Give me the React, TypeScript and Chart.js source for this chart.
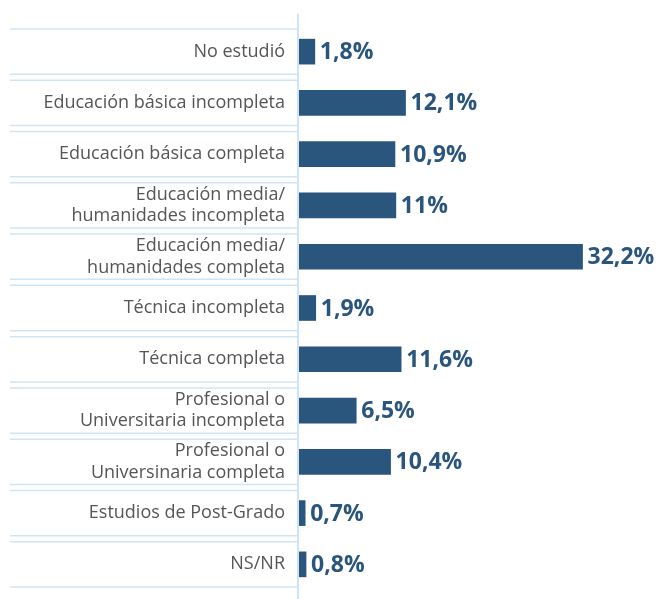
import React, { useEffect, useRef } from "react";
import { Chart, registerables } from "chart.js";

Chart.register(...registerables);

const categories: (string | string[])[] = [
  "No estudió",
  "Educación básica incompleta",
  "Educación básica completa",
  ["Educación media/", "humanidades incompleta"],
  ["Educación media/", "humanidades completa"],
  "Técnica incompleta",
  "Técnica completa",
  ["Profesional o", "Universitaria incompleta"],
  ["Profesional o", "Universinaria completa"],
  "Estudios de Post-Grado",
  "NS/NR",
];

const values = [1.8, 12.1, 10.9, 11, 32.2, 1.9, 11.6, 6.5, 10.4, 0.7, 0.8];

const BAR_COLOR = "#2a557d";
const LINE_COLOR = "#cfe5f6";

const decor = {
  id: "decor",
  beforeDatasetsDraw(chart: any) {
    const { ctx, chartArea, scales } = chart;
    const y = scales.y;
    const x = scales.x;
    const n = categories.length;
    const band = (chartArea.bottom - chartArea.top) / n;
    const x0 = x.getPixelForValue(0);
    ctx.save();
    ctx.strokeStyle = LINE_COLOR;
    ctx.lineWidth = 1.5;
    for (let i = 0; i < n; i++) {
      const c = y.getPixelForValue(i);
      const t = c - band / 2 + 3;
      const b = c + band / 2 - 3;
      for (const yy of [t, b]) {
        ctx.beginPath();
        ctx.moveTo(10, yy);
        ctx.lineTo(x0, yy);
        ctx.stroke();
      }
    }
    ctx.lineWidth = 2;
    ctx.beginPath();
    ctx.moveTo(x0 - 1, 14);
    ctx.lineTo(x0 - 1, chart.height);
    ctx.stroke();
    ctx.restore();
  },
  afterDatasetsDraw(chart: any) {
    const { ctx } = chart;
    const meta = chart.getDatasetMeta(0);
    ctx.save();
    ctx.fillStyle = BAR_COLOR;
    ctx.font = "bold 23px 'Open Sans'";
    ctx.textAlign = "left";
    ctx.textBaseline = "middle";
    meta.data.forEach((el: any, i: number) => {
      const txt = String(values[i]).replace(".", ",") + "%";
      ctx.fillText(txt, el.x + 5, el.y + 1);
    });
    ctx.restore();
  },
};

export default function App() {
  const ref = useRef<HTMLCanvasElement | null>(null);
  useEffect(() => {
    if (!ref.current) return;
    const chart = new Chart(ref.current, {
      type: "bar",
      data: {
        labels: categories,
        datasets: [
          {
            data: values,
            backgroundColor: BAR_COLOR,
            barThickness: 25,
          },
        ],
      },
      options: {
        indexAxis: "y",
        responsive: false,
        animation: false,
        layout: { padding: { top: 26, bottom: 9, left: 0, right: 40 } },
        plugins: { legend: { display: false }, tooltip: { enabled: false } },
        scales: {
          x: { display: false, min: 0, max: 36 },
          y: {
            grid: { display: false, drawTicks: false },
            border: { display: false },
            ticks: {
              color: "#555555",
              font: { family: "'Open Sans'", size: 18, lineHeight: 1.2 },
              padding: 14,
              autoSkip: false,
            },
            afterFit(scale: any) {
              scale.width = 299;
              scale.paddingTop = 0;
              scale.paddingBottom = 0;
            },
          },
        },
      },
      plugins: [decor],
    });
    return () => chart.destroy();
  }, []);
  return (
    <div style={{ position: "absolute", left: 0, top: 0, width: 656, height: 599, background: "#fff" }}>
      <canvas ref={ref} width={656} height={599} />
    </div>
  );
}
